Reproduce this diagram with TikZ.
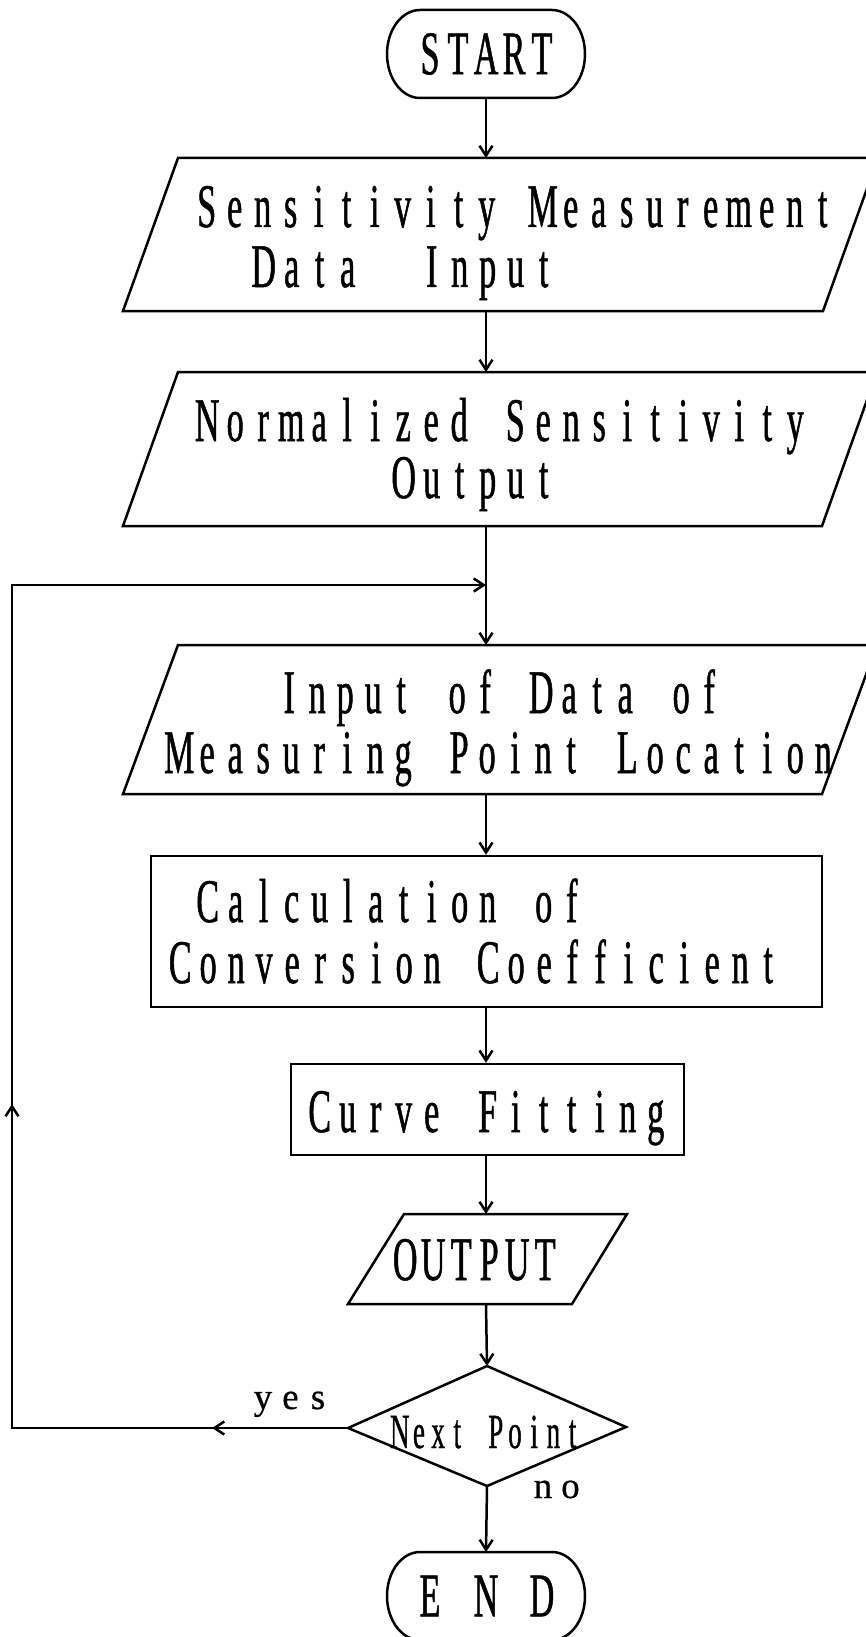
\documentclass[tikz,border=0pt]{standalone}
\usepackage{fontspec}
\usetikzlibrary{arrows.meta}
\newfontfamily\cf[FakeStretch=0.55,FakeBold=0.8]{Liberation Serif}
\newfontfamily\lf[FakeBold=0.6]{Liberation Serif}
\makeatletter
\newdimen\mpitch
\def\mono@end{mono@end}
\def\mono#1#2{\mpitch=#1\relax\mono@loop#2\mono@end}
\def\mono@loop{\futurelet\mono@next\mono@check}
\def\mono@check{%
  \ifx\mono@next\mono@end \let\mono@go\mono@stop
  \else\ifx\mono@next\@sptoken \let\mono@go\mono@sp
  \else \let\mono@go\mono@char\fi\fi
  \mono@go}
\def\mono@char#1{\hbox to\mpitch{\hss#1\hss}\mono@loop}
\expandafter\def\expandafter\mono@sp\space{\hbox to\mpitch{}\mono@loop}
\def\mono@stop\mono@end{}
\makeatother
\tikzset{
  ln/.style={line width=2.5pt, line join=miter},
  arr/.style={ln, -{Straight Barb[length=10pt,width=13pt]}},
  txt/.style={anchor=base west, inner sep=0pt, font=\cf\fontsize{62}{62}\selectfont},
  term/.style={inner sep=0pt, minimum width=198pt, minimum height=88pt, font=\cf\fontsize{62}{62}\selectfont},
  box/.style={draw, ln, inner sep=0pt},
  small/.style={anchor=base west, inner sep=0pt, font=\lf\fontsize{37}{37}\selectfont}
}
\begin{document}
\begin{tikzpicture}[x=1pt,y=-1pt]
\useasboundingbox (0,0) rectangle (866,1637);
% START terminal
\node[term] (start) at (486,54) {\mono{28pt}{START}};
\draw[ln] (420,10) -- (552,10) arc[start angle=-90,end angle=90,x radius=33,y radius=44]
  -- (420,98) arc[start angle=90,end angle=270,x radius=33,y radius=44] -- cycle;
% parallelogram 1
\draw[ln] (178,158) -- (878,158) -- (823,311) -- (123,311) -- cycle;
\coordinate (p1n) at (486,158); \coordinate (p1s) at (486,311);
\node[txt] (t1a) at (192.5,227) {\mono{28pt}{Sensitivity Measurement}};
\node[txt] (t1b) at (249.5,287) {\mono{28pt}{Data~ Input}};
% parallelogram 2
\draw[ln] (178,372) -- (877,372) -- (822,526) -- (123,526) -- cycle;
\coordinate (p2n) at (486,372); \coordinate (p2s) at (486,526);
\node[txt] (t2a) at (193,441) {\mono{28pt}{Normalized Sensitivity}};
\node[txt] (t2b) at (389.5,498) {\mono{28pt}{Output}};
% parallelogram 3
\draw[ln] (178,645) -- (877,645) -- (822,794) -- (123,794) -- cycle;
\coordinate (p3n) at (486,645); \coordinate (p3s) at (486,794);
\node[txt] (t3a) at (275,713) {\mono{28pt}{Input of Data of}};
\node[txt] (t3b) at (165,773) {\mono{28pt}{Measuring Point Location}};
% calculation box
\node[box, minimum width=671pt, minimum height=151pt] (calc) at (486.5,931.5) {};
\node[txt] (t4a) at (193.5,922) {\mono{28pt}{Calculation of}};
\node[txt] (t4b) at (166,983) {\mono{28pt}{Conversion Coefficient}};
% curve fitting box
\node[box, minimum width=393pt, minimum height=91pt] (fit) at (487.5,1109.5) {};
\node[txt] (t5) at (305.5,1132) {\mono{28pt}{Curve Fitting}};
% OUTPUT parallelogram
\draw[ln] (404,1214) -- (627,1214) -- (572,1304) -- (348,1304) -- cycle;
\coordinate (o1n) at (486,1214); \coordinate (o1s) at (486,1304);
\node[txt] (t6) at (391,1280) {\mono{28pt}{OUTPUT}};
% decision diamond
\coordinate (dT) at (487,1366); \coordinate (dR) at (626,1427);
\coordinate (dB) at (487,1486); \coordinate (dL) at (348,1428);
\draw[ln] (dT) -- (dR) -- (dB) -- (dL) -- cycle;
\node[txt, font=\cf\fontsize{49}{49}\selectfont] (t7) at (390,1448) {\mono{19.2pt}{Next Point}};
\node[small] (yes) at (249,1409) {\mono{27.5pt}{yes}};
\node[small] (no) at (529,1498) {\mono{27.5pt}{no}};
% END terminal
\node[term] (end) at (486,1596) {\mono{28pt}{E N D}};
\draw[ln] (420,1552) -- (552,1552) arc[start angle=-90,end angle=90,x radius=33,y radius=44]
  -- (420,1640) arc[start angle=90,end angle=270,x radius=33,y radius=44] -- cycle;
\coordinate (endn) at (486,1552);
% main flow
\draw[arr] (start.south) -- (p1n);
\draw[arr] (p1s) -- (p2n);
\draw[arr] (p2s) -- (p3n);
\draw[arr] (p3s) -- (p3s |- calc.north);
\draw[arr] (p3s |- calc.south) -- (p3s |- fit.north);
\draw[arr] (p3s |- fit.south) -- (o1n);
\draw[arr] (o1s) -- (dT);
\draw[arr] (dB) -- (endn);
% loop back
\coordinate (ym) at (212,1428);
\coordinate (L1) at (12,1428);
\coordinate (um) at (12,1104);
\coordinate (L2) at (12,585);
\coordinate (J) at (486,585);
\draw[ln] (dL) -- (L1) -- (L2) -- (J);
\draw[arr] (dL) -- (ym);
\draw[arr] (L1) -- (um);
\draw[arr] (L2) -- (J);
\end{tikzpicture}
\end{document}
